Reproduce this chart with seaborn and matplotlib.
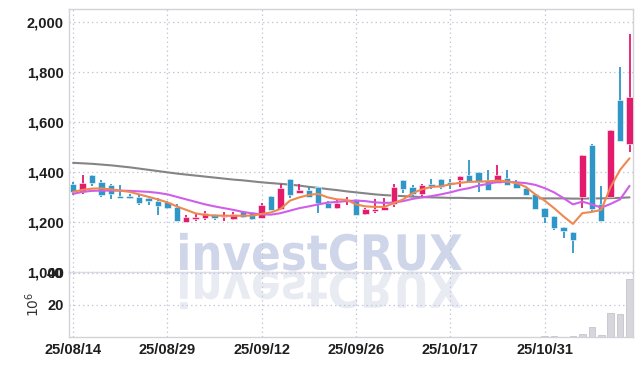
import numpy as np
import pandas as pd
import matplotlib
matplotlib.use("Agg")
import matplotlib.pyplot as plt
import seaborn as sns
from matplotlib.textpath import TextPath
from matplotlib.patches import PathPatch
from matplotlib.font_manager import FontProperties
from matplotlib.transforms import Affine2D

# ---------------- data ----------------
opens = [1352, 1321, 1388, 1359, 1348, 1304, 1304, 1301, 1297, 1285,
         1279, 1261, 1201, 1212, 1217, 1232, 1221, 1211, 1245, 1240,
         1217, 1304, 1251, 1372, 1315, 1328, 1339, 1275, 1257, 1283,
         1291, 1231, 1244, 1248, 1271, 1368, 1341, 1312, 1352, 1371,
         1361, 1368, 1388, 1401, 1368, 1357, 1375, 1355, 1336, 1312,
         1255, 1224, 1179, 1160, 1301, 1507, 1272, 1301, 1687, 1511]
highs = [1361, 1388, 1388, 1368, 1350, 1348, 1312, 1312, 1304, 1297,
         1282, 1271, 1227, 1232, 1244, 1232, 1241, 1240, 1245, 1240,
         1275, 1304, 1352, 1372, 1352, 1340, 1339, 1285, 1291, 1299,
         1291, 1255, 1292, 1297, 1352, 1368, 1348, 1352, 1372, 1371,
         1371, 1384, 1448, 1401, 1408, 1428, 1408, 1368, 1336, 1312,
         1255, 1224, 1179, 1160, 1467, 1510, 1344, 1567, 1817, 1950]
lows = [1308, 1312, 1344, 1301, 1291, 1297, 1290, 1268, 1268, 1228,
        1250, 1205, 1200, 1204, 1206, 1208, 1205, 1206, 1215, 1208,
        1217, 1248, 1251, 1295, 1315, 1299, 1235, 1257, 1251, 1268,
        1229, 1228, 1236, 1248, 1261, 1317, 1305, 1297, 1332, 1332,
        1331, 1341, 1361, 1321, 1328, 1357, 1349, 1335, 1308, 1252,
        1195, 1168, 1135, 1076, 1255, 1245, 1204, 1301, 1525, 1480]
closes = [1321, 1355, 1357, 1309, 1313, 1297, 1296, 1277, 1283, 1265,
          1257, 1205, 1220, 1220, 1237, 1217, 1225, 1231, 1219, 1213,
          1268, 1248, 1337, 1309, 1328, 1299, 1275, 1257, 1277, 1290,
          1229, 1250, 1252, 1259, 1341, 1332, 1312, 1348, 1344, 1339,
          1352, 1384, 1361, 1361, 1328, 1388, 1349, 1335, 1308, 1252,
          1221, 1177, 1165, 1128, 1467, 1252, 1204, 1567, 1525, 1700]
ma_short = [1320, 1328, 1333, 1334, 1330, 1325, 1320, 1310, 1300, 1290,
            1278, 1262, 1248, 1234, 1228, 1225, 1225, 1224, 1225, 1225,
            1232, 1238, 1252, 1285, 1298, 1308, 1312, 1298, 1290, 1288,
            1270, 1262, 1260, 1260, 1275, 1290, 1315, 1330, 1340, 1342,
            1350, 1356, 1360, 1361, 1362, 1365, 1362, 1355, 1340, 1310,
            1285, 1255, 1222, 1192, 1235, 1240, 1248, 1340, 1408, 1454]
ma_mid = [1312, 1320, 1324, 1325, 1325, 1325, 1324, 1322, 1320, 1316,
          1310, 1300, 1290, 1280, 1270, 1262, 1255, 1248, 1240, 1234,
          1230, 1229, 1235, 1245, 1255, 1262, 1270, 1277, 1280, 1283,
          1285, 1283, 1278, 1276, 1277, 1283, 1292, 1298, 1303, 1310,
          1318, 1328, 1335, 1345, 1352, 1360, 1360, 1358, 1355, 1348,
          1335, 1318, 1295, 1270, 1281, 1270, 1257, 1272, 1290, 1344]
ma_long = [1436, 1434, 1432, 1429, 1426, 1422, 1418, 1413, 1408, 1403,
           1398, 1393, 1389, 1385, 1381, 1377, 1373, 1369, 1366, 1362,
           1358, 1355, 1352, 1349, 1345, 1340, 1336, 1331, 1327, 1322,
           1318, 1314, 1310, 1307, 1305, 1303, 1301, 1299, 1298, 1297,
           1296, 1296, 1295, 1295, 1295, 1295, 1295, 1295, 1295, 1294,
           1294, 1294, 1294, 1293, 1293, 1294, 1294, 1295, 1296, 1298]
volume = [0.2, 0.2, 0.2, 0.2, 0.1, 0.1, 0.1, 0.1, 0.1, 0.1,
          0.1, 0.2, 0.1, 0.1, 0.1, 0.1, 0.1, 0.1, 0.1, 0.1,
          0.2, 0.2, 0.3, 0.2, 0.1, 0.1, 0.2, 0.1, 0.1, 0.1,
          0.1, 0.1, 0.1, 0.1, 0.2, 0.1, 0.1, 0.1, 0.1, 0.1,
          0.1, 0.1, 0.2, 0.1, 0.1, 0.1, 0.1, 0.1, 0.1, 0.2,
          0.6, 0.7, 0.3, 0.6, 1.8, 6.0, 1.2, 15.2, 14.2, 36.1]
date_labels = ["25/08/14", "25/08/29", "25/09/12", "25/09/26", "25/10/17", "25/10/31"]
date_pos = [0, 10, 20, 30, 40, 50]
price_ticks = [1000, 1200, 1400, 1600, 1800, 2000]
vol_ticks = [20, 40]

# ---------------- style ----------------
sns.set_style("white")
plt.rcParams["font.family"] = ["Liberation Sans", "DejaVu Sans"]

UP = "#e31b6d"
DOWN = "#2f96c8"
GRID = "#c5c8dc"
SPINE = "#d2d2d8"
TXT = "#1e1e1e"

W, H = 643, 366
fig = plt.figure(figsize=(W / 100, H / 100), dpi=100)
fig.patch.set_facecolor("white")
L, R, T, B, MID = 69.3, 633.3, 9.3, 337.0, 272.0
ax = fig.add_axes([L / W, (H - MID) / H, (R - L) / W, (MID - T) / H])
axv = fig.add_axes([L / W, (H - B) / H, (R - L) / W, (B - MID) / H], sharex=ax)
for a in (ax, axv):
    a.set_facecolor("none")

idx = np.arange(len(closes))
o = np.array(opens); c = np.array(closes)
hi = np.array(highs); lo = np.array(lows)
cols = [UP if cc >= oo else DOWN for oo, cc in zip(o, c)]

# wicks and bodies
ax.vlines(idx, lo, hi, colors=cols, lw=1.3, zorder=3)
body_bottom = np.minimum(o, c)
body_h = np.maximum(np.abs(c - o), 4)
ax.bar(idx, body_h, bottom=body_bottom, width=0.68, color=cols,
       edgecolor="white", linewidth=0.4, zorder=4)

df = pd.DataFrame({"i": idx, "s": ma_short, "m": ma_mid, "l": ma_long})
sns.lineplot(data=df, x="i", y="l", ax=ax, color="#858585", lw=1.5, zorder=2)
sns.lineplot(data=df, x="i", y="m", ax=ax, color="#cf5ee9", lw=1.5, zorder=5)
sns.lineplot(data=df, x="i", y="s", ax=ax, color="#ef8850", lw=1.5, zorder=5)

vdf = pd.DataFrame({"i": idx, "v": volume})
sns.barplot(data=vdf, x="i", y="v", ax=axv, native_scale=True, color="#d6d6dc",
            saturation=1, width=0.7, edgecolor="#c4c4cc", linewidth=0.6)

# axes setup
ax.set_xlim(-0.4, 59.4)
ax.set_ylim(1000, 2049)
axv.set_ylim(0, 40.5)
ax.set_yticks(price_ticks)
ax.set_yticklabels([f"{v:,}" for v in price_ticks])
axv.set_yticks(vol_ticks)
axv.set_yticklabels([str(v) for v in vol_ticks])
axv.set_xticks(date_pos)
axv.set_xticklabels(date_labels)
ax.tick_params(axis="x", labelbottom=False, length=0)
for a in (ax, axv):
    a.set_xlabel("")
    a.set_ylabel("")
    a.grid(True, color=GRID, linestyle=(0, (1.2, 2.4)), lw=0.9)
    a.set_axisbelow(True)
    a.tick_params(axis="both", length=0, pad=4, labelsize=10.5, labelcolor=TXT)
    for lbl in a.get_xticklabels() + a.get_yticklabels():
        lbl.set_fontweight("bold")
    for s in a.spines.values():
        s.set_color(SPINE)
        s.set_linewidth(1.0)
axv.spines["top"].set_visible(False)
ax.spines["bottom"].set_color("#dcdce4")
axv.tick_params(axis="x", pad=4.5)
axv.set_ylabel(r"$10^{6}$", fontsize=10, color="#333333", labelpad=4)

# watermark with reflection
fp = FontProperties(family="DejaVu Sans", weight="bold")
tp = TextPath((0, 0), "investCRUX", size=100, prop=fp)
bb = tp.get_extents()
cap = TextPath((0, 0), "C", size=100, prop=fp).get_extents().height
x0, x1, base = 180.0, 462.0, H - 270.0
sx = (x1 - x0) / bb.width
sy = 37.0 / cap
to_fig = Affine2D().scale(1 / 100.0) + fig.dpi_scale_trans
tr_main = Affine2D().translate(-bb.x0, 0).scale(sx, sy).translate(x0, base)
tr_ref = Affine2D().translate(-bb.x0, 0).scale(sx, -sy).translate(x0, base - 2)
fig.patches.append(PathPatch(tr_main.transform_path(tp), transform=to_fig,
                             facecolor="#d0d6ea", edgecolor="none", zorder=-1))
fig.patches.append(PathPatch(tr_ref.transform_path(tp), transform=to_fig,
                             facecolor="#e9ebf3", edgecolor="none", zorder=-1))

fig.savefig("out.png", dpi=100, facecolor="white")
